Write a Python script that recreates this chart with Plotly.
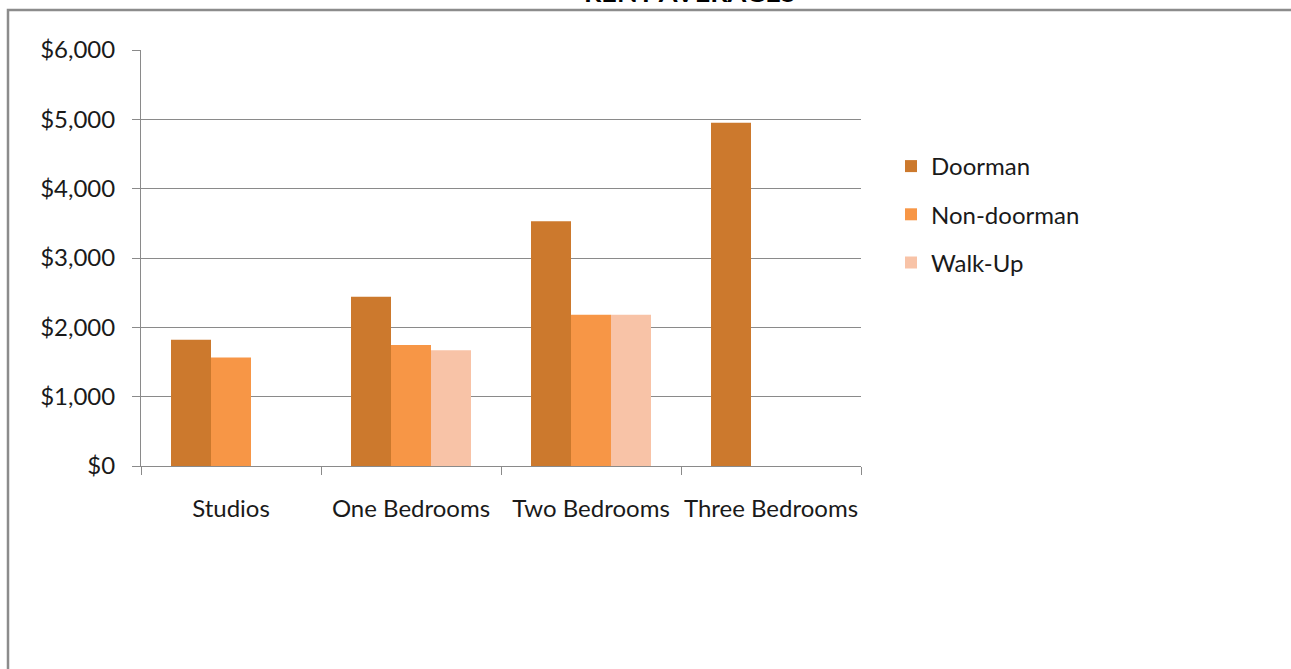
import plotly.graph_objects as go

# Average monthly rents by apartment size and building type
categories = ["Studios", "One Bedrooms", "Two Bedrooms", "Three Bedrooms"]
doorman = [1820, 2440, 3530, 4950]
non_doorman = [1565, 1745, 2180, None]
walk_up = [None, 1670, 2180, None]

series_names = ["Doorman", "Non-doorman", "Walk-Up"]
series_colors = ["#CC792D", "#F79646", "#F8C3A7"]

y_ticks = [0, 1000, 2000, 3000, 4000, 5000, 6000]
y_tick_text = ["$0", "$1,000", "$2,000", "$3,000", "$4,000", "$5,000", "$6,000"]

W, H = 1291, 669
L, R, T, B = 141, 430, 50, 203
plot_w, plot_h = W - L - R, H - T - B

FONT = "Lato"
FS = 24
TEXT = "#1a1a1a"
GRID = "#8a8a8a"

fig = go.Figure()
for i, (name, vals, col) in enumerate(zip(series_names, [doorman, non_doorman, walk_up], series_colors)):
    fig.add_trace(go.Bar(
        x=categories, y=vals, name=name, marker=dict(color=col, line=dict(width=0)),
        legendgroup=f"g{i}",
    ))

def px_x(p):
    return (p - L) / plot_w

def px_y(p):
    return (H - B - p) / plot_h

# outer chart frame
fig.add_shape(type="rect", xref="paper", yref="paper",
              x0=px_x(8), x1=px_x(W + 20), y0=px_y(H + 20), y1=px_y(10),
              line=dict(color="#8c8c8c", width=2.5), fillcolor="rgba(0,0,0,0)", layer="below")

# chart title, sitting above the frame
fig.add_annotation(text="<b>RENT AVERAGES</b>", xref="paper", yref="paper",
                   x=px_x(690), y=px_y(10), xanchor="center", yanchor="bottom",
                   showarrow=False, font=dict(family=FONT, size=27, color="#000000"))

fig.update_layout(
    width=W, height=H,
    margin=dict(l=L, r=R, t=T, b=B, pad=0),
    paper_bgcolor="white", plot_bgcolor="white",
    barmode="group", bargap=1/3, bargroupgap=0,
    font=dict(family=FONT, size=FS, color=TEXT),
    showlegend=True,
    legend=dict(x=px_x(891), y=px_y(144), xanchor="left", yanchor="top",
                font=dict(family=FONT, size=FS, color=TEXT),
                tracegroupgap=14, itemwidth=30, bgcolor="rgba(0,0,0,0)"),
    xaxis=dict(
        type="category", tickson="boundaries", ticks="outside", ticklen=8,
        tickcolor=GRID, showline=True, linecolor=GRID, linewidth=1,
        showgrid=False, ticklabelstandoff=21, tickangle=0,
        tickfont=dict(family=FONT, size=FS, color=TEXT),
        range=[-0.5, 3.5],
    ),
    yaxis=dict(
        range=[0, 6000], tickmode="array", tickvals=y_ticks, ticktext=y_tick_text,
        ticks="outside", ticklen=8, tickcolor=GRID,
        showline=True, linecolor=GRID, linewidth=1, showgrid=True, gridcolor=GRID,
        gridwidth=1, zeroline=False, ticklabelstandoff=12,
        tickfont=dict(family=FONT, size=FS, color=TEXT),
    ),
)

fig.write_html("out.html")
